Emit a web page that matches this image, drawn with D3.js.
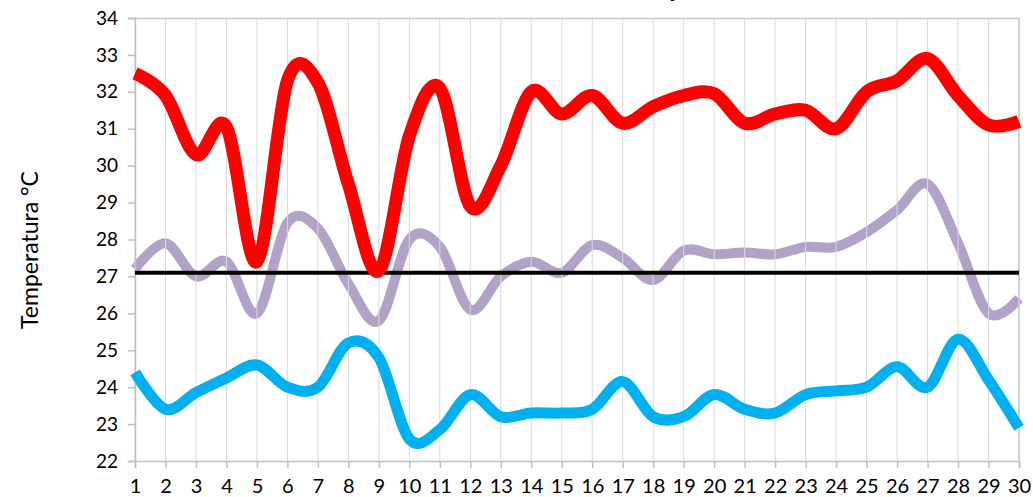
<!DOCTYPE html>
<html>
<head>
<meta charset="utf-8">
<script src="https://cdn.jsdelivr.net/npm/d3@7"></script>
<style>
  body { margin: 0; background: #fff; }
  text { font-family: "Lato", "Open Sans", sans-serif; }
</style>
</head>
<body>
<div id="chart"></div>
<script>
// days of the month
const days = d3.range(1, 31);

const maxTemp = [32.5, 31.9, 30.3, 31.05, 27.4, 32.3, 32.25, 29.5, 27.15, 30.8,
  32.1, 28.9, 30.0, 32.0, 31.4, 31.9, 31.15, 31.6, 31.9, 31.95,
  31.15, 31.4, 31.5, 31.0, 32.0, 32.3, 32.9, 31.9, 31.1, 31.2];

const meanTemp = [27.2, 27.9, 27.0, 27.4, 26.0, 28.45, 28.3, 26.8, 25.8, 28.0,
  27.8, 26.1, 27.0, 27.4, 27.1, 27.85, 27.5, 26.9, 27.7, 27.6,
  27.65, 27.6, 27.8, 27.8, 28.2, 28.8, 29.5, 27.9, 26.0, 26.4];

const minTemp = [24.4, 23.4, 23.85, 24.25, 24.6, 24.0, 24.0, 25.2, 24.8, 22.6,
  22.85, 23.8, 23.2, 23.3, 23.3, 23.4, 24.15, 23.2, 23.2, 23.8,
  23.4, 23.3, 23.8, 23.9, 24.0, 24.55, 24.0, 25.3, 24.2, 22.9];

const refTemp = 27.1;
const yTicks = d3.range(22, 35);

const svg = d3.select("#chart")
  .append("svg")
  .attr("width", 1033)
  .attr("height", 497);

const margin = { top: 18, right: 14, bottom: 36, left: 135 },
  width = 1033 - margin.left - margin.right,
  height = 497 - margin.top - margin.bottom,
  g = svg.append("g").attr("transform", `translate(${margin.left},${margin.top})`);

const x = d3.scaleLinear().domain([1, 30]).range([0, width]);
const y = d3.scaleLinear().domain([22, 34]).range([height, 0]);

// title, mostly cut off above the picture
svg.append("text")
  .attr("x", 700)
  .attr("y", -3)
  .attr("text-anchor", "middle")
  .attr("font-size", 26)
  .attr("font-weight", "bold")
  .text("Temperaturas");

// vertical grid
g.append("g")
  .selectAll("line")
  .data(days)
  .enter()
  .append("line")
  .attr("x1", (d) => x(d))
  .attr("x2", (d) => x(d))
  .attr("y1", 0)
  .attr("y2", height)
  .attr("stroke", "#d9d9d9")
  .attr("stroke-width", 1);

// frame top/right
g.append("path")
  .attr("d", `M0,0.5H${width}V${height}`)
  .attr("fill", "none")
  .attr("stroke", "#c8c8c8")
  .attr("stroke-width", 1.5);

const xAxis = g.append("g")
  .attr("transform", `translate(0,${height})`)
  .call(d3.axisBottom(x).tickValues(days).tickFormat(d3.format("d")).tickSize(7).tickPadding(11));

const yAxis = g.append("g")
  .call(d3.axisLeft(y).tickValues(yTicks).tickSize(7).tickPadding(10));

[xAxis, yAxis].forEach((a) => {
  a.select(".domain").attr("stroke", "#bfbfbf").attr("stroke-width", 1.5);
  a.selectAll(".tick line").attr("stroke", "#bfbfbf").attr("stroke-width", 1.5);
  a.selectAll(".tick text")
    .attr("fill", "#000")
    .style("font-family", "Lato, 'Open Sans', sans-serif");
});
xAxis.selectAll(".tick text").attr("font-size", 20);
yAxis.selectAll(".tick text").attr("font-size", 19);

svg.append("text")
  .attr("transform", "translate(38,250) rotate(-90)")
  .attr("text-anchor", "middle")
  .attr("font-size", 23)
  .text("Temperatura °C");

const line = d3.line()
  .x((d, i) => x(days[i]))
  .y((d) => y(d))
  .curve(d3.curveCardinal.tension(0));

const series = [
  { values: meanTemp, color: "#b3a2c7", w: 10 },
  { values: minTemp, color: "#00b0f0", w: 11 },
  { values: maxTemp, color: "#ff0000", w: 13 }
];

// reference line drawn under the red series
g.append("path")
  .datum(days.map(() => refTemp))
  .attr("d", line)
  .attr("fill", "none")
  .attr("stroke", "#000")
  .attr("stroke-width", 4);

series.forEach((s, k) => {
  const p = g.append("path")
    .datum(s.values)
    .attr("d", line)
    .attr("fill", "none")
    .attr("stroke", s.color)
    .attr("stroke-width", s.w)
    .attr("stroke-linejoin", "round")
    .attr("stroke-linecap", "butt");
  if (k === 0) p.lower();
});
g.selectAll("line").lower();
</script>
</body>
</html>
